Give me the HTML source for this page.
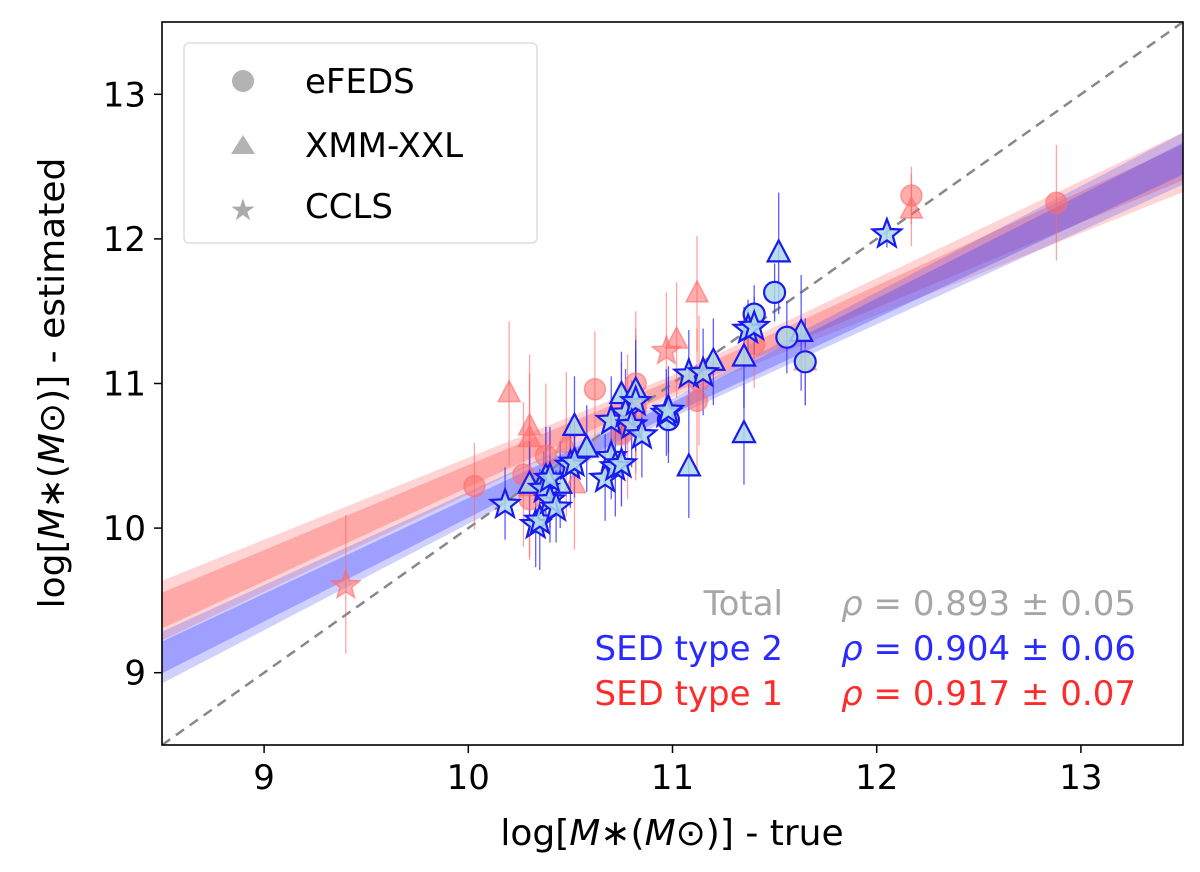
<!DOCTYPE html>
<html><head><meta charset="utf-8"><style>
html,body{margin:0;padding:0;background:#fff;}
svg{display:block;font-family:"DejaVu Sans","Liberation Sans",sans-serif;}
</style></head><body>
<svg id="chart" width="1200" height="872" viewBox="0 0 1200 872" xmlns="http://www.w3.org/2000/svg">
<defs><clipPath id="plotclip"><rect x="162" y="22" width="1021" height="723"/></clipPath></defs>
<g id="bands" clip-path="url(#plotclip)"></g>
<line id="diag" stroke="#888" stroke-width="2.5" stroke-dasharray="10,7" clip-path="url(#plotclip)"/>
<g id="errs" clip-path="url(#plotclip)"></g>
<g id="pts" clip-path="url(#plotclip)"></g>
<rect x="162" y="22" width="1021" height="723" fill="none" stroke="#000" stroke-width="1.6"/>
<g id="ticks"></g>
<g>
<rect x="184" y="43" width="353" height="200" rx="5" fill="#fff" fill-opacity="0.8" stroke="#ddd" stroke-width="1.5"/>
<circle cx="243" cy="81" r="11" fill="#b3b3b3"/>
<text x="305" y="93" font-size="34">eFEDS</text>
<polygon points="243,135 255,154 231,154" fill="#b3b3b3"/>
<text x="305" y="157" font-size="34">XMM-XXL</text>
<text x="243" y="220" font-size="30" fill="#aaa" text-anchor="middle">★</text>
<text x="305" y="218" font-size="34">CCLS</text>
</g>
<g font-size="34">
<text x="783" y="615" text-anchor="end" fill="#a6a6a6">Total</text>
<text x="1136" y="615" text-anchor="end" fill="#a6a6a6"><tspan font-style="italic">ρ</tspan> = 0.893 ± 0.05</text>
<text x="783" y="660" text-anchor="end" fill="#2a2aff">SED type 2</text>
<text x="1136" y="660" text-anchor="end" fill="#2a2aff"><tspan font-style="italic">ρ</tspan> = 0.904 ± 0.06</text>
<text x="783" y="705" text-anchor="end" fill="#ff2a2a">SED type 1</text>
<text x="1136" y="705" text-anchor="end" fill="#ff2a2a"><tspan font-style="italic">ρ</tspan> = 0.917 ± 0.07</text>
</g>
<text x="672" y="845" text-anchor="middle" font-size="36">log[<tspan font-style="italic">M</tspan>∗(<tspan font-style="italic">M</tspan>⊙)] - true</text>
<text transform="translate(64,383) rotate(-90)" text-anchor="middle" font-size="36">log[<tspan font-style="italic">M</tspan>∗(<tspan font-style="italic">M</tspan>⊙)] - estimated</text>
</svg>
<script>
const xTicks=[9,10,11,12,13];
const yTicks=[9,10,11,12,13];
// blue (SED type 2)
const blueStarX=[10.18,10.33,10.35,10.37,10.40,10.43,10.40,10.50,10.52,10.67,10.70,10.72,10.75,10.70,10.77,10.82,10.80,10.85,10.97,10.98,11.08,11.15,11.37,11.40,12.05];
const blueStarY=[10.17,10.03,10.06,10.28,10.20,10.15,10.35,10.44,10.46,10.35,10.50,10.43,10.45,10.75,10.80,10.88,10.72,10.65,10.80,10.82,11.07,11.08,11.38,11.40,12.04];
const blueStarE=[0.25,0.3,0.35,0.25,0.3,0.25,0.35,0.3,0.25,0.3,0.3,0.35,0.3,0.3,0.3,0.35,0.3,0.3,0.3,0.3,0.3,0.3,0.2,0.2,0.1];
const blueTriX=[10.52,10.58,10.45,10.38,10.30,10.75,11.08,11.20,11.35,11.35,11.52,11.63,10.82];
const blueTriY=[10.70,10.55,10.30,10.35,10.30,10.92,10.42,11.15,10.65,11.18,11.90,11.35,10.95];
const blueTriE=[0.35,0.3,0.3,0.35,0.3,0.3,0.35,0.3,0.35,0.35,0.42,0.4,0.35];
const blueCircX=[11.40,11.50,11.56,11.65,10.98];
const blueCircY=[11.48,11.63,11.32,11.15,10.75];
const blueCircE=[0.2,0.2,0.25,0.3,0.3];
// red (SED type 1)
const redCircX=[10.03,10.27,10.30,10.38,10.62,10.82,11.12,11.13,11.40,12.17,12.88,10.75,10.82];
const redCircY=[10.29,10.37,10.20,10.50,10.96,11.00,10.88,11.02,11.27,12.30,12.25,10.65,10.83];
const redCircE=[0.3,0.5,0.4,0.5,0.4,0.5,0.5,0.45,0.3,0.2,0.4,0.5,0.5];
const redTriX=[10.20,10.30,10.30,10.48,10.52,10.78,11.02,11.12,12.17,11.65,10.30];
const redTriY=[10.93,10.70,10.62,10.58,10.30,10.70,11.30,11.62,12.20,11.15,10.28];
const redTriE=[0.5,0.5,0.45,0.5,0.45,0.5,0.4,0.4,0.25,0.3,0.5];
const redStarX=[9.40,10.97,10.82];
const redStarY=[9.61,11.23,10.88];
const redStarE=[0.48,0.4,0.5];
// regression fits: slope, value at 11, inner/outer half-width
const redFit=[0.62,10.98,0.09,0.15];
const blueFit=[0.69,10.83,0.08,0.13];

const X0=8.5,X1=13.5,Y0=8.5,Y1=13.5,PL=162,PR=1183,PT=22,PB=745;
const sx=v=>PL+(v-X0)/(X1-X0)*(PR-PL);
const sy=v=>PB-(v-Y0)/(Y1-Y0)*(PB-PT);
const NS='http://www.w3.org/2000/svg';
function mk(tag,parent,attrs){const e=document.createElementNS(NS,tag);for(const k in attrs)e.setAttribute(k,attrs[k]);parent.appendChild(e);return e;}

const diag=document.getElementById('diag');
diag.setAttribute('x1',sx(8.5));diag.setAttribute('y1',sy(8.5));diag.setAttribute('x2',sx(13.5));diag.setAttribute('y2',sy(13.5));

const bands=document.getElementById('bands');
function band(fit,color,name){
  const [m,c,w1,w2]=fit;
  [[w2,0.25],[w1,0.35]].forEach(([w,op],i)=>{
    const xs=[];for(let x=8.4;x<=13.6;x+=0.1)xs.push(x);
    const hw=x=>w*(0.5+0.35*Math.abs(x-11));
    const top=xs.map(x=>sx(x)+','+sy(c+m*(x-11)+hw(x)));
    const bot=xs.slice().reverse().map(x=>sx(x)+','+sy(c+m*(x-11)-hw(x)));
    const p=mk('polygon',bands,{points:top.concat(bot).join(' '),fill:color,'fill-opacity':op});
    
    
  });
}
band(redFit,'#ff5555','sed1');
band(blueFit,'#4444ff','sed2');

const errs=document.getElementById('errs'),pts=document.getElementById('pts');
function star(cx,cy,R){const r=R*0.42;let p=[];for(let i=0;i<10;i++){const a=-Math.PI/2+i*Math.PI/5;const rr=i%2?r:R;p.push((cx+rr*Math.cos(a)).toFixed(1)+','+(cy+rr*Math.sin(a)).toFixed(1));}return p.join(' ');}
function series(X,Y,E,shape,blue,name){
  const ec=blue?'#3333ff':'#ff6666';
  X.forEach((x,i)=>{
    const l=mk('line',errs,{x1:sx(x),x2:sx(x),y1:sy(Y[i]-E[i]),y2:sy(Y[i]+E[i]),stroke:ec,'stroke-width':1.3,'stroke-opacity':blue?0.8:0.6});
    
    
  });
  X.forEach((x,i)=>{
    const cx=sx(x),cy=sy(Y[i]);
    const st=blue?{fill:'#add8e6','fill-opacity':0.85,stroke:'#1a1aee','stroke-width':2.2}:{fill:'#ff6a6a','fill-opacity':0.55,stroke:'#ff6a6a','stroke-opacity':0.6,'stroke-width':1.5};
    let e;
    if(shape==='c')e=mk('circle',pts,Object.assign({cx:cx,cy:cy,r:10.5},st));
    else if(shape==='t')e=mk('polygon',pts,Object.assign({points:`${cx},${cy-13} ${cx+11},${cy+8} ${cx-11},${cy+8}`},st));
    else e=mk('polygon',pts,Object.assign({points:star(cx,cy+1,15)},st));
    
    
  });
}
series(redCircX,redCircY,redCircE,'c',false,'sed1-efeds');
series(redTriX,redTriY,redTriE,'t',false,'sed1-xmm');
series(redStarX,redStarY,redStarE,'s',false,'sed1-ccls');
series(blueTriX,blueTriY,blueTriE,'t',true,'sed2-xmm');
series(blueCircX,blueCircY,blueCircE,'c',true,'sed2-efeds');
series(blueStarX,blueStarY,blueStarE,'s',true,'sed2-ccls');

const tk=document.getElementById('ticks');
xTicks.forEach(v=>{
  const l=mk('line',tk,{x1:sx(v),x2:sx(v),y1:PB,y2:PB+8,stroke:'#000','stroke-width':1.5});
  
  
  const t=mk('text',tk,{x:sx(v),y:PB+44,'text-anchor':'middle','font-size':34});t.textContent=v;
  
  
});
yTicks.forEach(v=>{
  const l=mk('line',tk,{x1:PL-8,x2:PL,y1:sy(v),y2:sy(v),stroke:'#000','stroke-width':1.5});
  
  
  const t=mk('text',tk,{x:PL-16,y:sy(v)+12,'text-anchor':'end','font-size':34});t.textContent=v;
  
  
});
</script>
</body></html>
